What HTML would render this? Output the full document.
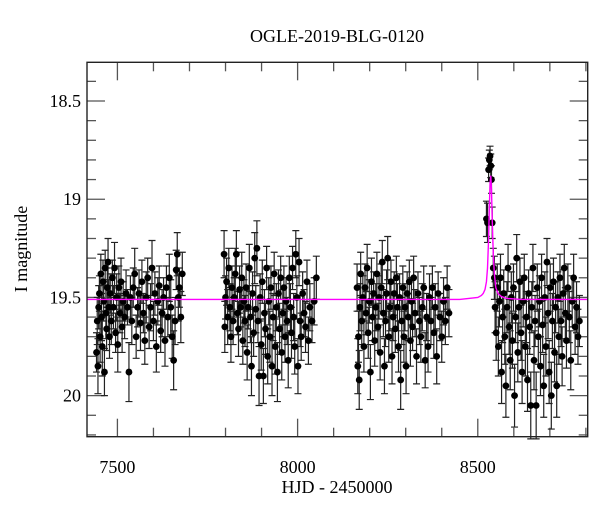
<!DOCTYPE html>
<html><head><meta charset="utf-8"><style>
body{margin:0;background:#fff;}
svg text{font-family:"Liberation Serif",serif;fill:#000;}
</style></head><body>
<svg id="chart" width="600" height="512" viewBox="0 0 600 512" xmlns="http://www.w3.org/2000/svg">
<rect width="600" height="512" fill="#fff"/>
<text x="337" y="42" font-size="18" text-anchor="middle">OGLE-2019-BLG-0120</text>
<text x="337" y="493" font-size="18" text-anchor="middle">HJD - 2450000</text>
<text transform="translate(27,249) rotate(-90)" font-size="18" text-anchor="middle">I magnitude</text>
<g id="ticks"></g>
<g id="errs"></g>
<g id="pts"></g>
<g id="model"></g>
<rect x="87" y="62.3" width="500.7" height="374.4" fill="none" stroke="#222" stroke-width="1.4"/>
</svg>
<script>
const xTicks=[7500,8000,8500];
const xTickLabels=["7500","8000","8500"];
const yTicks=[18.5,19,19.5,20];
const yTickLabels=["18.5","19","19.5","20"];
const hjd=[7442,7444,7446,7448,7450,7452,7454,7456,7458,7460,7462,7464,7466,7468,7470,7472,7474,7476,7478,7480,7483,7486,7489,7492,7495,7498,7501,7504,7507,7510,7513,7516,7520,7524,7528,7532,7536,7540,7544,7548,7552,7556,7560,7564,7568,7572,7576,7580,7584,7588,7592,7596,7600,7604,7608,7612,7616,7620,7624,7628,7632,7636,7640,7644,7648,7652,7656,7660,7663,7666,7669,7672,7676,7680,
7796,7798,7800,7803,7806,7809,7812,7815,7818,7821,7824,7827,7830,7833,7836,7839,7842,7845,7848,7851,7854,7857,7860,7863,7866,7869,7872,7875,7878,7881,7884,7887,7890,7893,7896,7899,7902,7905,7908,7911,7914,7917,7920,7923,7926,7929,7932,7935,7938,7941,7944,7947,7950,7953,7956,7959,7962,7965,7968,7971,7974,7977,7980,7983,7986,7989,7992,7995,7998,8001,8004,8007,8010,8014,8018,8022,8026,8030,8034,8040,8046,8052,
8165,8167,8169,8171,8173,8175,8178,8181,8184,8187,8190,8193,8196,8199,8202,8205,8208,8211,8214,8217,8220,8223,8226,8229,8232,8235,8238,8241,8244,8247,8250,8253,8256,8259,8262,8265,8268,8271,8274,8277,8280,8283,8286,8289,8292,8295,8298,8301,8304,8307,8310,8313,8316,8319,8322,8326,8330,8334,8338,8342,8346,8350,8354,8358,8362,8366,8370,8374,8378,8382,8386,8390,8395,8400,8405,8410,8415,8420,
8524,8527,8530,8532,8534,8536,8538,8540,8543,8546,
8548,8551,8554,8557,8560,8563,8566,8569,8572,8575,8578,8581,8584,8587,8590,8593,8596,8599,8602,8605,8608,8611,8614,8617,8620,8623,8626,8629,8632,8635,8638,8641,8644,8647,8650,8653,8656,8659,8662,8665,8668,8671,8674,8677,8680,8683,8686,8689,8692,8695,8698,8701,8704,8707,8710,8713,8716,8719,8722,8725,8728,8731,8734,8737,8740,8743,8746,8750,8754,8758,8762,8766,8770,8774,8778,8782];
const mag=[19.78,19.62,19.85,19.55,19.48,19.70,19.38,19.60,19.75,19.42,19.52,19.88,19.35,19.58,19.66,19.45,19.32,19.55,19.70,19.48,19.62,19.40,19.55,19.35,19.68,19.50,19.74,19.45,19.58,19.42,19.65,19.52,19.60,19.48,19.55,19.88,19.50,19.62,19.45,19.38,19.70,19.55,19.48,19.63,19.42,19.58,19.72,19.50,19.40,19.65,19.55,19.35,19.62,19.48,19.75,19.52,19.44,19.67,19.58,19.50,19.72,19.45,19.60,19.40,19.55,19.70,19.82,19.62,19.36,19.28,19.50,19.45,19.60,19.38,
19.28,19.65,19.50,19.42,19.60,19.35,19.55,19.70,19.45,19.62,19.50,19.38,19.28,19.58,19.66,19.46,19.55,19.40,19.72,19.52,19.62,19.45,19.78,19.55,19.35,19.60,19.85,19.48,19.68,19.30,19.56,19.25,19.62,19.90,19.50,19.74,19.42,19.90,19.58,19.66,19.35,19.80,19.52,19.70,19.45,19.85,19.60,19.38,19.75,19.55,19.88,19.48,19.66,19.40,19.78,19.58,19.45,19.70,19.52,19.62,19.82,19.40,19.55,19.68,19.35,19.60,19.75,19.28,19.50,19.85,19.32,19.62,19.70,19.48,19.58,19.65,19.42,19.72,19.55,19.62,19.52,19.40,
19.45,19.85,19.70,19.92,19.55,19.38,19.62,19.50,19.75,19.45,19.58,19.35,19.68,19.52,19.88,19.42,19.60,19.48,19.72,19.55,19.38,19.65,19.50,19.78,19.45,19.32,19.58,19.85,19.62,19.48,19.30,19.70,19.55,19.42,19.80,19.60,19.48,19.66,19.40,19.55,19.75,19.50,19.92,19.62,19.45,19.70,19.55,19.85,19.48,19.60,19.42,19.72,19.52,19.65,19.40,19.58,19.80,19.48,19.62,19.70,19.55,19.45,19.82,19.60,19.75,19.50,19.62,19.45,19.68,19.55,19.80,19.48,19.60,19.70,19.52,19.62,19.45,19.58,
19.10,19.12,18.85,18.80,18.78,18.83,18.90,19.12,19.35,19.40,
19.55,19.68,19.45,19.75,19.52,19.40,19.88,19.60,19.48,19.70,19.95,19.55,19.35,19.65,19.82,19.50,19.72,19.45,20.00,19.60,19.30,19.78,19.55,19.42,19.68,19.88,19.52,19.40,19.75,19.60,19.92,19.48,19.65,20.05,19.55,19.35,19.82,19.62,20.05,19.45,19.70,19.52,19.85,19.40,19.64,19.95,19.50,19.75,19.32,19.58,19.88,19.45,20.00,19.62,19.42,19.78,19.55,19.95,19.50,19.70,19.40,19.62,19.80,19.48,19.35,19.58,19.72,19.45,19.60,19.82,19.52,19.40,19.65,19.55,19.70,19.62];
const err=[0.10,0.12,0.14,0.11,0.09,0.13,0.10,0.12,0.15,0.11,0.10,0.12,0.09,0.13,0.11,0.10,0.12,0.14,0.11,0.10,
0.12,0.09,0.11,0.13,0.10,0.12,0.14,0.11,0.10,0.12,0.13,0.10,0.11,0.12,0.09,0.15,0.11,0.12,0.10,0.13,
0.11,0.10,0.12,0.14,0.11,0.10,0.12,0.13,0.10,0.11,0.12,0.14,0.10,0.11,0.13,0.12,0.10,0.11,0.12,0.10,
0.13,0.11,0.10,0.12,0.14,0.11,0.15,0.12,0.10,0.11,0.12,0.10,0.13,0.11,
0.12,0.13,0.11,0.12,0.14,0.10,0.12,0.13,0.11,0.12,0.10,0.13,0.12,0.11,0.14,0.12,0.10,0.13,0.12,0.11,
0.13,0.12,0.14,0.11,0.12,0.13,0.15,0.11,0.12,0.13,0.12,0.14,0.11,0.15,0.12,0.13,0.11,0.14,0.12,0.13,
0.11,0.14,0.12,0.13,0.11,0.15,0.12,0.11,0.14,0.12,0.15,0.12,0.13,0.11,0.14,0.12,0.11,0.13,0.12,0.12,
0.14,0.11,0.12,0.13,0.11,0.12,0.14,0.12,0.11,0.14,0.12,0.13,0.12,0.11,0.12,0.13,0.11,0.12,0.12,0.11,0.12,0.11,
0.12,0.14,0.13,0.15,0.12,0.11,0.12,0.11,0.13,0.12,0.11,0.12,0.13,0.11,0.14,0.12,0.12,0.11,0.13,0.12,
0.11,0.12,0.11,0.14,0.12,0.11,0.12,0.14,0.13,0.12,0.11,0.13,0.12,0.11,0.14,0.12,0.11,0.12,0.11,0.12,
0.13,0.12,0.15,0.12,0.11,0.13,0.12,0.14,0.11,0.12,0.11,0.13,0.12,0.12,0.11,0.12,0.14,0.11,0.12,0.13,
0.12,0.11,0.14,0.12,0.13,0.12,0.12,0.11,0.13,0.12,0.14,0.11,0.12,0.13,0.12,0.12,0.11,0.12,
0.09,0.10,0.06,0.05,0.05,0.06,0.07,0.08,0.10,0.11,
0.13,0.14,0.12,0.15,0.13,0.12,0.16,0.13,0.12,0.14,0.16,0.13,0.12,0.14,0.15,0.13,0.14,0.12,0.16,0.13,
0.12,0.15,0.13,0.12,0.14,0.16,0.13,0.12,0.15,0.13,0.16,0.12,0.14,0.17,0.13,0.12,0.15,0.13,0.17,0.12,
0.14,0.13,0.15,0.12,0.14,0.16,0.13,0.15,0.12,0.13,0.16,0.12,0.17,0.14,0.12,0.15,0.13,0.16,0.13,0.14,
0.12,0.13,0.15,0.12,0.12,0.13,0.14,0.12,0.13,0.15,0.13,0.12,0.14,0.13,0.14,0.13];
const modelHjd=[7415,8450,8500,8510,8515,8520,8524,8527,8530,8532,8534,8536,8538,8540,8543,8546,8550,8556,8565,8580,8620,8805];
const modelMag=[19.51,19.51,19.50,19.49,19.48,19.46,19.42,19.35,19.20,19.05,18.92,18.88,18.95,19.10,19.28,19.38,19.45,19.48,19.495,19.505,19.51,19.51];

const L=87,R=587.7,T=62.3,B=436.7;
const xMin=7415.6,xMax=8805,yMin=18.303,yMax=20.209;
const X=v=>L+(v-xMin)/(xMax-xMin)*(R-L);
const Y=v=>T+(v-yMin)/(yMax-yMin)*(B-T);
const NS="http://www.w3.org/2000/svg";
function mk(tag,attrs,parent){const e=document.createElementNS(NS,tag);for(const k in attrs)e.setAttribute(k,attrs[k]);parent.appendChild(e);return e;}
const tg=document.getElementById('ticks');
for(let v=7500;v<=8800;v+=100){
  const major=xTicks.includes(v);const len=major?18:9;const x=X(v);
  const t1=mk('line',{x1:x,x2:x,y1:B,y2:B-len,stroke:'#555','stroke-width':1.3},tg);
  
  
  const t2=mk('line',{x1:x,x2:x,y1:T,y2:T+len,stroke:'#555','stroke-width':1.3},tg);
  
  
}
xTicks.forEach((v,i)=>{const t=mk('text',{x:X(v),y:473,'font-size':18,'text-anchor':'middle'},tg);t.textContent=xTickLabels[i];
  
  });
for(let k=184;k<=202;k++){
  const v=k/10;if(Y(v)<T||Y(v)>B)continue;
  const major=yTicks.some(t=>Math.abs(t-v)<1e-6);const len=major?18:9;const y=Y(v);
  const t1=mk('line',{x1:L,x2:L+len,y1:y,y2:y,stroke:'#555','stroke-width':1.3},tg);
  
  
  const t2=mk('line',{x1:R,x2:R-len,y1:y,y2:y,stroke:'#555','stroke-width':1.3},tg);
  
  
}
yTicks.forEach((v,i)=>{const t=mk('text',{x:81,y:Y(v)+6,'font-size':18,'text-anchor':'end'},tg);t.textContent=yTickLabels[i];
  
  });
const eg=document.getElementById('errs'),pg=document.getElementById('pts');
for(let i=0;i<hjd.length;i++){
  const x=X(hjd[i]),y=Y(mag[i]),e=err[i]||0.12;
  const y1=Y(mag[i]-e),y2=Y(mag[i]+e);
  const p=mk('path',{d:`M${x},${y1}V${y2}M${x-3.5},${y1}H${x+3.5}M${x-3.5},${y2}H${x+3.5}`,stroke:'#222','stroke-width':1.2,fill:'none'},eg);
  
  
  const c=mk('circle',{cx:x,cy:y,r:3.4,fill:'#000'},pg);
  
  
}
const mg=document.getElementById('model');
const d=modelHjd.map((t,i)=>(i?'L':'M')+X(t).toFixed(2)+','+Y(modelMag[i]).toFixed(2)).join('');
const ml=mk('path',{d:d,stroke:'#ff00ff','stroke-width':1.4,fill:'none'},mg);


</script>
</body></html>
